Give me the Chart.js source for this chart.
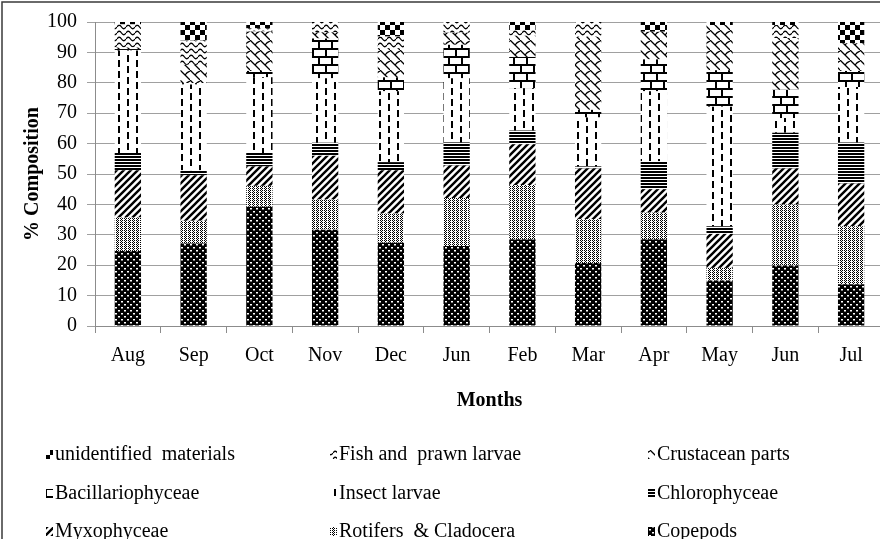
<!DOCTYPE html>
<html>
<head>
<meta charset="utf-8">
<script src="https://cdn.jsdelivr.net/npm/chart.js@4.4.1/dist/chart.umd.min.js"></script>
<style>
  html, body { margin: 0; padding: 0; overflow: hidden; background: #fff; }
  #wrap { width: 890px; height: 539px; }
</style>
</head>
<body>
<div id="wrap"><canvas id="c" width="890" height="539"></canvas></div>
<script>
// Monthly gut-content composition (%), stacked bottom to top
const months = ['Aug', 'Sep', 'Oct', 'Nov', 'Dec', 'Jun', 'Feb', 'Mar', 'Apr', 'May', 'Jun', 'Jul'];

const copepods          = [24.7, 27.1, 39.2, 31.7, 27.4, 26.3, 28.5, 20.7, 28.5, 15.0, 19.9, 13.7];
const rotifers          = [11.0,  7.5,  6.9,  9.9,  9.6, 15.8, 17.9, 14.4,  8.8,  4.1, 20.1, 19.1];
const myxophyceae       = [15.5, 15.0,  6.4, 14.4, 14.2, 10.7, 13.4, 16.7,  7.7, 11.2, 11.8, 14.1];
const chlorophyceae     = [ 5.7,  1.6,  4.4,  4.3,  2.7,  7.6,  4.5,  0.7,  9.2,  2.5, 11.8, 13.5];
const insectLarvae      = [33.7, 28.2, 24.9, 21.2, 23.3, 21.1, 13.9, 16.1, 23.0, 39.3,  4.8, 18.2];
const bacillariophyceae = [ 0.5,  0.5,  2.1, 13.1,  4.6, 11.0, 10.3,  2.5, 10.5, 12.0,  9.3,  5.3];
const crustaceanParts   = [ 0.5,  6.0, 13.0,  2.0,  9.6,  4.0,  7.0, 24.0,  9.1, 14.9, 17.0,  9.1];
const fishPrawnLarvae   = [ 7.6,  8.0,  1.0,  3.4,  3.8,  3.5,  1.8,  4.9,  0.0,  0.0,  4.3,  0.0];
const unidentified      = [ 0.8,  6.1,  2.1,  0.0,  4.8,  0.0,  2.7,  0.0,  3.2,  1.0,  1.0,  7.0];

const yTicks = [0, 10, 20, 30, 40, 50, 60, 70, 80, 90, 100];

const FONT = 'Liberation Serif, "Times New Roman", serif';

// ---- black & white fill patterns ----
function makeTile(w, h, draw) {
  const c = document.createElement('canvas');
  c.width = w; c.height = h;
  const g = c.getContext('2d');
  g.fillStyle = '#fff'; g.fillRect(0, 0, w, h);
  g.fillStyle = '#000'; g.strokeStyle = '#000';
  draw(g, w, h);
  return c;
}
const ctx0 = document.getElementById('c').getContext('2d');
function pat(tile) { return ctx0.createPattern(tile, 'repeat'); }

const P = {
  copepods: pat(makeTile(6, 6, g => {
    g.fillRect(0, 0, 6, 6);
    g.fillStyle = '#fff';
    g.fillRect(1, 1, 2, 1.5); g.fillRect(4, 4, 2, 1.5);
  })),
  rotifers: pat(makeTile(4, 2, g => {
    g.fillRect(0, 0, 1, 1); g.fillRect(2, 0, 1, 1); g.fillRect(1, 1, 1, 1);
  })),
  myxophyceae: pat(makeTile(7, 7, g => {
    g.lineWidth = 2.4;
    g.beginPath();
    g.moveTo(-2, 9); g.lineTo(9, -2);
    g.moveTo(-3, 3); g.lineTo(3, -3);
    g.moveTo(4, 10); g.lineTo(10, 4);
    g.stroke();
  })),
  chlorophyceae: pat(makeTile(2, 3, g => {
    g.fillRect(0, 0, 2, 2);
  })),
  insectLarvae: pat(makeTile(18, 11, g => {
    g.fillRect(1, 0, 2, 7);
    g.fillRect(10, 5, 2, 6); g.fillRect(10, 0, 2, 1);
  })),
  bacillariophyceae: pat(makeTile(13, 16, g => {
    g.fillRect(0, 0, 13, 2);
    g.fillRect(0, 8, 13, 2);
    g.fillRect(0, 0, 2, 8);
    g.fillRect(6, 8, 2, 8);
  })),
  crustaceanParts: pat(makeTile(10, 10, g => {
    g.lineWidth = 1.3;
    g.beginPath();
    g.moveTo(0, 0); g.lineTo(10, 10);
    g.moveTo(5, 5); g.quadraticCurveTo(7, 2, 10, 1);
    g.stroke();
  })),
  fishPrawnLarvae: pat(makeTile(9, 6, g => {
    g.lineWidth = 1.3;
    g.beginPath();
    g.moveTo(0, 3); g.quadraticCurveTo(2.25, -0.5, 4.5, 3); g.quadraticCurveTo(6.75, 6.5, 9, 3);
    g.stroke();
  })),
  unidentified: pat(makeTile(10, 10, g => {
    g.fillRect(0, 0, 5, 5); g.fillRect(5, 5, 5, 5);
  }))
};

const datasets = [
  { label: 'Copepods',               data: copepods,          backgroundColor: P.copepods },
  { label: 'Rotifers  & Cladocera',  data: rotifers,          backgroundColor: P.rotifers },
  { label: 'Myxophyceae',            data: myxophyceae,       backgroundColor: P.myxophyceae },
  { label: 'Chlorophyceae',          data: chlorophyceae,     backgroundColor: P.chlorophyceae },
  { label: 'Insect larvae',          data: insectLarvae,      backgroundColor: P.insectLarvae },
  { label: 'Bacillariophyceae',      data: bacillariophyceae, backgroundColor: P.bacillariophyceae },
  { label: 'Crustacean parts',       data: crustaceanParts,   backgroundColor: P.crustaceanParts },
  { label: 'Fish and  prawn larvae', data: fishPrawnLarvae,   backgroundColor: P.fishPrawnLarvae },
  { label: 'unidentified  materials',data: unidentified,      backgroundColor: P.unidentified }
].map(d => Object.assign(d, { barPercentage: 0.4, categoryPercentage: 1.0, borderWidth: 0 }));

// Three-column legend under the axis title, listed top of stack first
const gridLegend = {
  id: 'gridLegend',
  afterDraw(chart) {
    const ctx = chart.ctx;
    const items = chart.data.datasets.slice().reverse();
    const colX = [46, 330, 648];
    const rowY = [455, 494, 532];
    ctx.save();
    ctx.font = '20px ' + FONT;
    ctx.textBaseline = 'middle';
    items.forEach((ds, i) => {
      const x = colX[i % 3], y = rowY[Math.floor(i / 3)];
      ctx.fillStyle = ds.backgroundColor;
      ctx.fillRect(x, y - 5, 7, 9);
      ctx.fillStyle = '#000';
      ctx.fillText(ds.label, x + 9, y);
    });
    ctx.restore();
  }
};

// Outer chart frame
const frame = {
  id: 'frame',
  beforeDraw(chart) {
    const ctx = chart.ctx;
    ctx.save();
    ctx.fillStyle = '#fff';
    ctx.fillRect(0, 0, chart.width, chart.height);
    ctx.strokeStyle = '#3a3a3a';
    ctx.lineWidth = 1.5;
    ctx.strokeRect(2, 2, chart.width + 10, chart.height + 10);
    ctx.restore();
  }
};

new Chart(document.getElementById('c'), {
  type: 'bar',
  data: { labels: months, datasets },
  options: {
    responsive: false,
    animation: false,
    devicePixelRatio: 1,
    layout: { padding: { left: 0, top: 15, right: 6, bottom: 126 } },
    plugins: { legend: { display: false }, tooltip: { enabled: false } },
    scales: {
      x: {
        stacked: true,
        afterFit(scale) { scale.height = 87; },
        grid: { drawOnChartArea: false, drawTicks: true, tickLength: 7, color: '#8c8c8c', offset: true },
        border: { display: true, color: '#8c8c8c', width: 1 },
        ticks: { font: { family: FONT, size: 20 }, color: '#000', padding: 11, maxRotation: 0, autoSkip: false },
        title: { display: true, text: 'Months', font: { family: FONT, size: 20, weight: 'bold' }, color: '#000', padding: { top: 0, bottom: 0 } }
      },
      y: {
        stacked: true,
        min: 0, max: 100,
        afterFit(scale) { scale.width = 95; },
        afterBuildTicks(scale) { scale.ticks = yTicks.map(v => ({ value: v })); },
        grid: { color: '#a0a0a0', tickLength: 8, lineWidth: 1 },
        border: { display: true, color: '#8c8c8c', width: 1 },
        ticks: { font: { family: FONT, size: 20 }, color: '#000', padding: 10 },
        title: { display: true, text: '% Composition', font: { family: FONT, size: 20, weight: 'bold' }, color: '#000', padding: { top: 21, bottom: 0 } }
      }
    }
  },
  plugins: [frame, gridLegend]
});
</script>
</body>
</html>
